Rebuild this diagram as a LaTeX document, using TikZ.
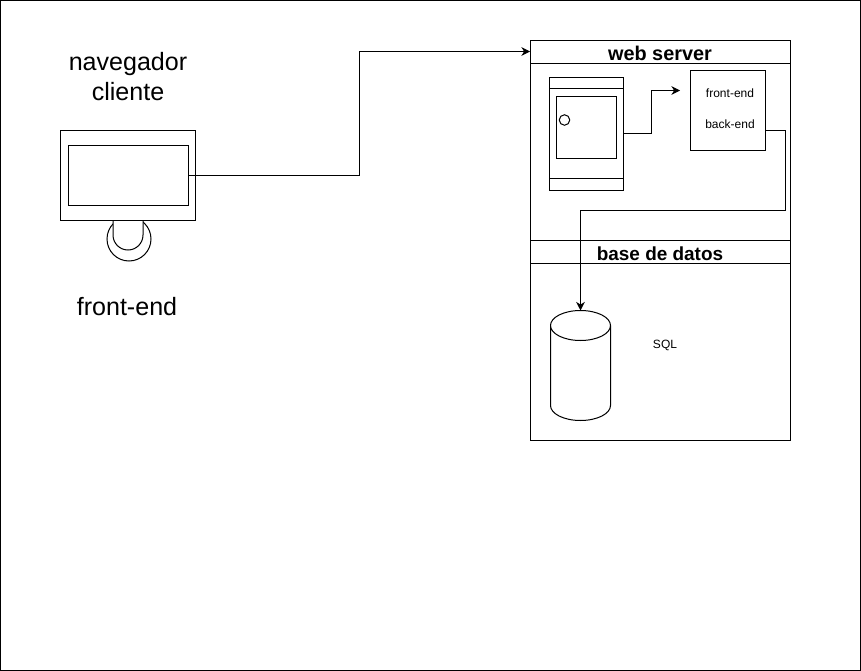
\documentclass[tikz,border=0pt]{standalone}
\usepackage{fontspec}
\setmainfont{Liberation Sans}
\usetikzlibrary{arrows.meta}

\def\px{0.75pt}

\tikzset{
	box/.style={draw, rectangle, outer sep=0pt, inner sep=0pt, line width=\px},
	flow/.style={line width=\px, -{Stealth[length=6.5pt,width=6.5pt]}},
	wire/.style={line width=\px},
	bigtext/.style={align=center, font=\fontsize{18.8}{22.5}\selectfont},
	headtext/.style={font=\fontsize{#1}{16}\selectfont\bfseries},
	smalltext/.style={font=\fontsize{9}{10}\selectfont},
}

\begin{document}
\begin{tikzpicture}[x=\px, y=-\px]

	% ---- page frame

	\useasboundingbox (0,0) rectangle (861,671);
	\node[box, minimum width=860*\px, minimum height=670*\px] (frame) at (430.5,335.5) {};

	% ---- client

	\node[bigtext] (clientlabel) at (128,77) {navegador\\cliente};
	\node[bigtext] (frontlabel) at (127,307) {front-end};

	\node[draw, circle, line width=\px, minimum size=44*\px, inner sep=0pt] (foot) at (129,239) {};
	\draw[wire, fill=white] (113,215) -- (113,235) arc (180:0:15) -- (143,215) -- cycle;
	\node[box, fill=white, minimum width=135*\px, minimum height=90*\px] (monitor) at (127.5,175.5) {};
	\node[box, minimum width=120*\px, minimum height=60*\px] (screen) at (128,175.5) {};

	% ---- web server

	\node[box, minimum width=260*\px, minimum height=200*\px] (server) at (660.5,140.5) {};
	\node[box, minimum width=260*\px, minimum height=23*\px] (serverhead) at (660.5,52) {};
	\node[headtext=14.9] (servertitle) at (660,53.5) {web server};

	\node[box, minimum width=74*\px, minimum height=113*\px] (rack) at (586,133.5) {};
	\foreach \y in {88.5,178.5} { \draw[wire] (549,\y) -- (623,\y); }
	\node[box, minimum width=60*\px, minimum height=62*\px] (panel) at (586,127) {};
	\node[draw, circle, line width=\px, minimum size=10.5*\px, inner sep=0pt] (led) at (564.5,120) {};

	\node[box, minimum width=75*\px, minimum height=80*\px] (app) at (728,110.5) {};
	\node[smalltext] (apptop) at (730,93.5) {front-end};
	\node[smalltext] (appbottom) at (730,124.5) {back-end};

	% ---- database

	\node[box, minimum width=260*\px, minimum height=200*\px] (base) at (660.5,340.5) {};
	\node[box, minimum width=260*\px, minimum height=23*\px] (basehead) at (660.5,252) {};
	\node[headtext=14.2] (basetitle) at (660,253.5) {base de datos};

	\coordinate (dbtop) at (580.5,310.5);
	\draw[wire] (550.5,325.5) arc (180:540:30 and 15) -- (550.5,405.5)
		arc (180:360:30 and -15) -- (610.5,325.5);
	\node[smalltext] (sql) at (665,345) {SQL};

	% ---- connectors

	\coordinate (serverin) at (530,51.5);
	\coordinate (appin) at (680,90.5);
	\coordinate (appout) at (765.5,130.5);

	\draw[flow] (screen.east) -- (359,175.5) |- (serverin);
	\draw[flow] (rack.east) -- (651,133.5) |- (appin);
	\draw[flow] (appout) -- (785,130.5) -- (785,210.5) -| (dbtop);

\end{tikzpicture}
\end{document}
